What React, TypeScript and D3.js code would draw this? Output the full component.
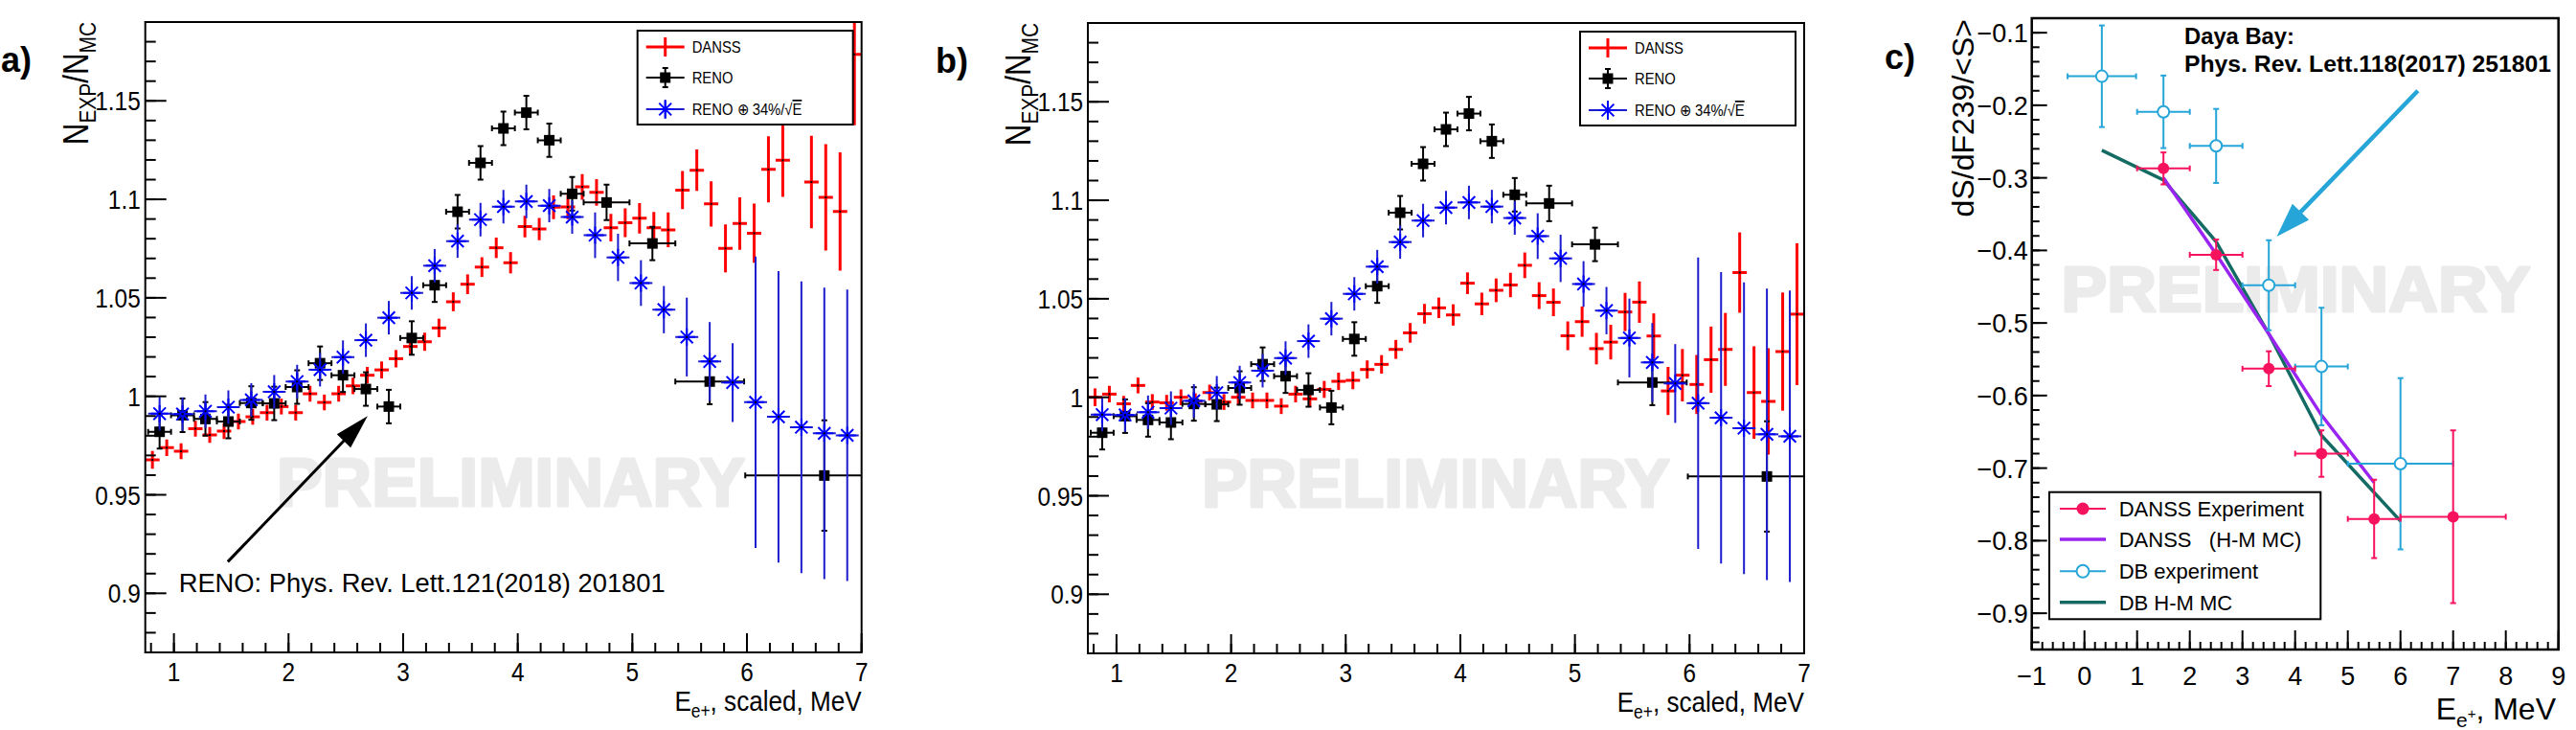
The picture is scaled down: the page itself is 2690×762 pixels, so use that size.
import React from 'react';
import * as d3 from 'd3';

const W = 2690;
const H = 762;
const FONT = "'Liberation Sans', Arial, Helvetica, sans-serif";
const SQ = 0.87; // the ROOT canvases of a) and b) were squeezed horizontally

// ---------- panels a) and b): N_EXP / N_MC ----------
const danssE = [
  0.8125, 0.9375, 1.0625, 1.1875, 1.3125, 1.4375, 1.5625, 1.6875, 1.8125, 1.9375,
  2.0625, 2.1875, 2.3125, 2.4375, 2.5625, 2.6875, 2.8125, 2.9375, 3.0625, 3.1875,
  3.3125, 3.4375, 3.5625, 3.6875, 3.8125, 3.9375, 4.0625, 4.1875, 4.3125, 4.4375,
  4.5625, 4.6875, 4.8125, 4.9375, 5.0625, 5.1875, 5.3125, 5.4375, 5.5625, 5.6875,
  5.8125, 5.9375, 6.0625, 6.1875, 6.3125, 6.4375, 6.5625, 6.6875, 6.8125, 6.9375,
];
const danssHalfBin = 0.0625;
const danssRatioA: (number | null)[] = [
  0.9677, 0.9739, 0.9721, 0.9836, 0.9804, 0.9823, 0.9872, 0.9896, 0.9917, 0.9948,
  0.9917, 1.0013, 0.9969, 1.0013, 1.0053, 1.0107, 1.0134, 1.0191, 1.0253, 1.0277,
  1.0347, 1.048, 1.0569, 1.0656, 1.0754, 1.0678, 1.0862, 1.0849, 1.096, 1.0961,
  1.1063, 1.1035, 1.0856, 1.0881, 1.0904, 1.0856, 1.0845, 1.1047, 1.1148, 1.0977,
  1.0751, 1.0877, 1.0828, 1.1152, 1.1198, null, 1.1088, 1.101, 1.0938, 1.1736,
];
const danssRatioB: (number | null)[] = [
  1.0, 1.0016, 0.9967, 1.006, 0.9976, 0.9972, 1.0, 0.998, 1.0024, 0.9976,
  1.0, 0.9984, 0.9984, 0.9955, 1.0016, 0.9992, 1.004, 1.0081, 1.0086, 1.0141,
  1.0167, 1.0243, 1.0327, 1.0424, 1.0454, 1.0418, 1.0579, 1.0474, 1.0543, 1.057,
  1.067, 1.0516, 1.0482, 1.0312, 1.0384, 1.0247, 1.028, 1.0433, 1.0483, 1.0311,
  1.0032, 1.0112, 1.0065, 1.0191, 1.0243, 1.0633, 1.0024, 0.9979, 1.0232, 1.0422,
];
const danssErr = [
  0.0045, 0.0042, 0.004, 0.004, 0.004, 0.004, 0.004, 0.004, 0.004, 0.004,
  0.004, 0.004, 0.004, 0.004, 0.0042, 0.0042, 0.0043, 0.0044, 0.0045, 0.0046,
  0.0047, 0.0048, 0.005, 0.005, 0.0052, 0.0054, 0.0055, 0.0057, 0.006, 0.0062,
  0.0065, 0.0068, 0.007, 0.0073, 0.0077, 0.008, 0.0088, 0.0097, 0.0105, 0.0115,
  0.0122, 0.0133, 0.015, 0.0168, 0.0185, 0.0204, 0.0235, 0.027, 0.03, 0.036,
];

const renoE = [
  0.875, 1.075, 1.275, 1.475, 1.675, 1.875, 2.075, 2.275, 2.475, 2.675, 2.875, 3.075,
  3.275, 3.475, 3.675, 3.875, 4.075, 4.275, 4.475, 4.775, 5.175, 5.675, 6.675,
];
const renoRatio = [
  0.982, 0.9904, 0.9885, 0.9872, 0.9966, 0.9964, 1.0047, 1.0168, 1.0107, 1.0037, 0.9948, 1.0296,
  1.0564, 1.0937, 1.1185, 1.136, 1.144, 1.13, 1.1028, 1.0984, 1.0776, 1.0075, 0.9598,
];
const renoHalfBin = [
  0.1, 0.1, 0.1, 0.1, 0.1, 0.1, 0.1, 0.1, 0.1, 0.1, 0.1, 0.1,
  0.1, 0.1, 0.1, 0.1, 0.1, 0.1, 0.1, 0.2, 0.2, 0.3, 0.69,
];
const renoErr = [
  0.0085, 0.0085, 0.0085, 0.0085, 0.0085, 0.0085, 0.0085, 0.0085, 0.0085, 0.0085, 0.0085, 0.0085,
  0.0085, 0.0085, 0.0085, 0.0085, 0.0085, 0.0085, 0.0085, 0.009, 0.0085, 0.0115, 0.028,
];

// RENO smeared with 34%/sqrt(E)
const smearE = [
  0.875, 1.075, 1.275, 1.475, 1.675, 1.875, 2.075, 2.275, 2.475, 2.675, 2.875,
  3.075, 3.275, 3.475, 3.675, 3.875, 4.075, 4.275, 4.475, 4.675, 4.875,
  5.075, 5.275, 5.475, 5.675, 5.875, 6.075, 6.275, 6.475, 6.675, 6.875,
];
const smearHalfBin = 0.1;
const smearRatio = [
  0.9912, 0.991, 0.9924, 0.9945, 0.9982, 1.0023, 1.0075, 1.0135, 1.0199, 1.0285, 1.0399,
  1.0525, 1.0663, 1.0788, 1.0897, 1.0963, 1.0989, 1.0968, 1.091, 1.0818, 1.0705,
  1.0575, 1.044, 1.0301, 1.0177, 1.007, 0.997, 0.9896, 0.9843, 0.9812, 0.9802,
];
const smearErr = [
  0.0085, 0.0085, 0.0085, 0.0085, 0.0085, 0.0085, 0.0085, 0.0085, 0.0085, 0.0085, 0.0085,
  0.0085, 0.0085, 0.0085, 0.0085, 0.0085, 0.0085, 0.0085, 0.0085, 0.0116, 0.012,
  0.0116, 0.012, 0.02, 0.02, 0.02, 0.074, 0.074, 0.074, 0.074, 0.074,
];

const eTicks = [1, 2, 3, 4, 5, 6, 7];
const ratioTicks = [0.9, 0.95, 1, 1.05, 1.1, 1.15];

// ---------- panel c): dS/dF239/<S> ----------
const danssExpE = [1.5, 2.5, 3.5, 4.5, 5.5, 7.0];
const danssExpS = [-0.287, -0.406, -0.563, -0.68, -0.77, -0.767];
const danssExpEx = [0.5, 0.5, 0.5, 0.5, 0.5, 1.0];
const danssExpEy = [0.022, 0.021, 0.024, 0.032, 0.054, 0.119];

const danssMcE = [1.5, 2.5, 3.5, 4.5, 5.5];
const danssMcS = [-0.3, -0.405, -0.515, -0.627, -0.72];

const dbExpE = [0.33, 1.5, 2.5, 3.5, 4.5, 6.0];
const dbExpS = [-0.16, -0.209, -0.256, -0.448, -0.56, -0.694];
const dbExpEx = [0.65, 0.5, 0.5, 0.5, 0.5, 1.0];
const dbExpEy = [0.07, 0.05, 0.051, 0.062, 0.081, 0.118];

const dbMcE = [0.33, 1.5, 2.5, 3.5, 4.5, 6.0];
const dbMcS = [-0.262, -0.303, -0.388, -0.515, -0.655, -0.773];

const cETicks = [-1, 0, 1, 2, 3, 4, 5, 6, 7, 8, 9];
const cSTicks = [-0.1, -0.2, -0.3, -0.4, -0.5, -0.6, -0.7, -0.8, -0.9];

const PINK = '#f7125e';
const LBLUE = '#25a5d8';
const PURPLE = '#9b25f0';
const TEAL = '#146b63';
const BAR_BLUE = '#1c1ccf';
const WATERMARK = '#ebebeb';

// ROOT asterisk marker
const STAR = 'M-9,0H9M0,-9V9M-6.4,-6.4L6.4,6.4M-6.4,6.4L6.4,-6.4';

function Arrow({ x1, y1, x2, y2, color, width, head, half }: {
  x1: number; y1: number; x2: number; y2: number; color: string; width: number; head: number; half: number;
}) {
  const L = Math.hypot(x2 - x1, y2 - y1);
  const ux = (x2 - x1) / L;
  const uy = (y2 - y1) / L;
  const bx = x2 - ux * head;
  const by = y2 - uy * head;
  return (
    <g>
      <line x1={x1} y1={y1} x2={bx + ux * 2} y2={by + uy * 2} stroke={color} strokeWidth={width} />
      <polygon
        points={`${x2},${y2} ${bx - uy * half},${by + ux * half} ${bx + uy * half},${by - ux * half}`}
        fill={color}
      />
    </g>
  );
}

function RatioPanel({ left, top, tag, tagX, danss, wmX, note }: {
  left: number; top: number; tag: string; tagX: number; danss: (number | null)[]; wmX: number; note?: boolean;
}) {
  const right = left + 748;
  const bottom = top + 658;
  const x = d3.scaleLinear().domain([0.75, 7]).range([left, right]);
  const y = d3.scaleLinear().domain([0.87, 1.19]).range([bottom, top]);
  const clip = `clip-${tag[0]}`;
  const minorX = x.ticks(35);
  const minorY = y.ticks(32);
  const sq = (px: number, py: number) => `translate(${px},${py}) scale(${SQ},1)`;

  const lgX = left + 514;
  const lgY = top + 9;
  const mk = lgX + 29;
  const rows = [lgY + 17, lgY + 49, lgY + 82];

  return (
    <g>
      <defs>
        <clipPath id={clip}>
          <rect x={left} y={top} width={right - left} height={bottom - top} />
        </clipPath>
      </defs>
      <text x={wmX} y={top + 505} fontSize={70} fontWeight="bold" fill={WATERMARK}
        stroke={WATERMARK} strokeWidth={3} strokeLinejoin="round"
        textLength={489} lengthAdjust="spacingAndGlyphs">PRELIMINARY</text>

      <g clipPath={`url(#${clip})`}>
        {/* DANSS */}
        {danss.map((v, i) => v == null ? null : (
          <g key={`d${i}`}>
            <line x1={x(danssE[i] - danssHalfBin)} x2={x(danssE[i] + danssHalfBin)} y1={y(v)} y2={y(v)}
              stroke="#ff0000" strokeWidth={3} />
            <line x1={x(danssE[i])} x2={x(danssE[i])} y1={y(v - danssErr[i])} y2={y(v + danssErr[i])}
              stroke="#ff0000" strokeWidth={3} />
            <rect x={x(danssE[i]) - 1} y={y(v) - 1} width={2} height={2} fill="#000" />
          </g>
        ))}
        {/* RENO */}
        {renoRatio.map((v, i) => {
          const cx = x(renoE[i]);
          const cy = y(v);
          const xa = x(renoE[i] - renoHalfBin[i]);
          const xb = x(renoE[i] + renoHalfBin[i]);
          const ya = y(v - renoErr[i]);
          const yb = y(v + renoErr[i]);
          return (
            <g key={`r${i}`} stroke="#000" strokeWidth={2}>
              <line x1={xa} x2={xb} y1={cy} y2={cy} />
              <line x1={cx} x2={cx} y1={ya} y2={yb} />
              <line x1={xa} x2={xa} y1={cy - 3} y2={cy + 3} />
              <line x1={xb} x2={xb} y1={cy - 3} y2={cy + 3} />
              <line x1={cx - 3} x2={cx + 3} y1={ya} y2={ya} />
              <line x1={cx - 3} x2={cx + 3} y1={yb} y2={yb} />
              <rect x={cx - 5.5} y={cy - 5.5} width={11} height={11} fill="#000" stroke="none" />
            </g>
          );
        })}
        {/* RENO (+) 34%/sqrt(E) */}
        {smearRatio.map((v, i) => {
          const cx = x(smearE[i]);
          const cy = y(v);
          return (
            <g key={`s${i}`}>
              <line x1={x(smearE[i] - smearHalfBin)} x2={x(smearE[i] + smearHalfBin)} y1={cy} y2={cy}
                stroke={BAR_BLUE} strokeWidth={2} />
              <line x1={cx} x2={cx} y1={y(v - smearErr[i])} y2={y(v + smearErr[i])}
                stroke={BAR_BLUE} strokeWidth={2} />
              <path d={STAR} transform={`translate(${cx},${cy})`} stroke="#0000ff" strokeWidth={2} fill="none" />
              <rect x={cx - 1} y={cy - 1} width={2} height={2} fill="#000" />
            </g>
          );
        })}
      </g>

      {/* axes */}
      <rect x={left} y={top} width={right - left} height={bottom - top} fill="none" stroke="#000" strokeWidth={2} />
      <g stroke="#000" strokeWidth={2}>
        {minorX.map((t) => <line key={`mx${t}`} x1={x(t)} x2={x(t)} y1={bottom} y2={bottom - 10} />)}
        {eTicks.map((t) => <line key={`Mx${t}`} x1={x(t)} x2={x(t)} y1={bottom} y2={bottom - 20} />)}
        {minorY.map((t) => <line key={`my${t}`} x1={left} x2={left + 11} y1={y(t)} y2={y(t)} />)}
        {ratioTicks.map((t) => <line key={`My${t}`} x1={left} x2={left + 22} y1={y(t)} y2={y(t)} />)}
      </g>
      <g fontSize={28} fill="#000">
        {eTicks.map((t) => (
          <text key={`lx${t}`} transform={sq(x(t), bottom + 30)} textAnchor="middle">{t}</text>
        ))}
        {ratioTicks.map((t) => (
          <text key={`ly${t}`} transform={sq(left - 5, y(t) + 10)} textAnchor="end">{String(t)}</text>
        ))}
      </g>
      <text transform={sq(right, bottom + 61)} textAnchor="end" fontSize={30}>
        E<tspan fontSize={20} dy={7}>e+</tspan><tspan fontSize={30} dy={-7}>, scaled, MeV</tspan>
      </text>
      <text transform={`translate(${left - 60},${top}) rotate(-90) scale(${SQ},1)`} textAnchor="end" fontSize={36}>
        N<tspan fontSize={24} dy={8}>EXP</tspan><tspan fontSize={36} dy={-8}>/N</tspan><tspan fontSize={24} dy={8}>MC</tspan>
      </text>
      <text x={tagX} y={top + 52} fontSize={36} fontWeight="bold">{tag}</text>

      {/* legend */}
      <rect x={lgX} y={lgY} width={225} height={98} fill="#fff" stroke="#000" strokeWidth={2} />
      <g>
        <line x1={mk - 20} x2={mk + 20} y1={rows[0]} y2={rows[0]} stroke="#ff0000" strokeWidth={3} />
        <line x1={mk} x2={mk} y1={rows[0] - 10} y2={rows[0] + 10} stroke="#ff0000" strokeWidth={3} />
        <g stroke="#000" strokeWidth={2}>
          <line x1={mk - 20} x2={mk + 20} y1={rows[1]} y2={rows[1]} />
          <line x1={mk} x2={mk} y1={rows[1] - 10} y2={rows[1] + 10} />
          <line x1={mk - 3} x2={mk + 3} y1={rows[1] - 10} y2={rows[1] - 10} />
          <line x1={mk - 3} x2={mk + 3} y1={rows[1] + 10} y2={rows[1] + 10} />
        </g>
        <rect x={mk - 5.5} y={rows[1] - 5.5} width={11} height={11} fill="#000" />
        <line x1={mk - 20} x2={mk + 20} y1={rows[2]} y2={rows[2]} stroke={BAR_BLUE} strokeWidth={2} />
        <line x1={mk} x2={mk} y1={rows[2] - 10} y2={rows[2] + 10} stroke={BAR_BLUE} strokeWidth={2} />
        <path d={STAR} transform={`translate(${mk},${rows[2]})`} stroke="#0000ff" strokeWidth={2} fill="none" />
      </g>
      <g fontSize={17}>
        <text transform={sq(lgX + 57, rows[0] + 6)}>DANSS</text>
        <text transform={sq(lgX + 57, rows[1] + 6)}>RENO</text>
        <text transform={sq(lgX + 57, rows[2] + 6)}>
          RENO ⊕ 34%/√<tspan textDecoration="overline">E</tspan>
        </text>
      </g>

      {note && (
        <g>
          <Arrow x1={x(1.47)} y1={y(0.916)} x2={x(2.69)} y2={y(0.99)} color="#000" width={3} head={36} half={10} />
          <text x={left + 35} y={top + 595} fontSize={27} textLength={508} lengthAdjust="spacingAndGlyphs">
            RENO: Phys. Rev. Lett.121(2018) 201801
          </text>
        </g>
      )}
    </g>
  );
}

function SlopePanel() {
  const left = 2121.7;
  const right = 2671.7;
  const top = 19;
  const bottom = 678;
  const x = d3.scaleLinear().domain([-1, 9]).range([left, right]);
  const y = d3.scaleLinear().domain([-0.95, -0.08]).range([bottom, top]);
  const minorX = x.ticks(50);
  const minorY = y.ticks(43);
  const path = (es: number[], ss: number[]) =>
    d3.line<number>().x((e) => x(e)).y((_, i) => y(ss[i]))(es) ?? '';
  const fmt = (v: number, digits: number) => (v < 0 ? `\u2212${(-v).toFixed(digits)}` : v.toFixed(digits));

  const points = (es: number[], ss: number[], exs: number[], eys: number[], color: string, open: boolean, key: string) =>
    es.map((e, i) => {
      const cx = x(e);
      const cy = y(ss[i]);
      const xa = x(e - exs[i]);
      const xb = x(e + exs[i]);
      const ya = y(ss[i] - eys[i]);
      const yb = y(ss[i] + eys[i]);
      return (
        <g key={`${key}${i}`} stroke={color} strokeWidth={2}>
          <line x1={xa} x2={xb} y1={cy} y2={cy} />
          <line x1={cx} x2={cx} y1={ya} y2={yb} />
          <line x1={xa} x2={xa} y1={cy - 3} y2={cy + 3} />
          <line x1={xb} x2={xb} y1={cy - 3} y2={cy + 3} />
          <line x1={cx - 3} x2={cx + 3} y1={ya} y2={ya} />
          <line x1={cx - 3} x2={cx + 3} y1={yb} y2={yb} />
          <circle cx={cx} cy={cy} r={6} fill={open ? '#fff' : color} strokeWidth={open ? 2 : 0} />
        </g>
      );
    });

  const lgX = 2140;
  const lgY = 513.7;
  const rows = [531, 563, 596.3, 628.7];
  const mk = 2175;

  return (
    <g>
      <text x={2152.6} y={325} fontSize={67} fontWeight="bold" fill={WATERMARK}
        stroke={WATERMARK} strokeWidth={3} strokeLinejoin="round"
        textLength={490} lengthAdjust="spacingAndGlyphs">PRELIMINARY</text>

      <path d={path(dbMcE, dbMcS)} fill="none" stroke={TEAL} strokeWidth={3.5} />
      <path d={path(danssMcE, danssMcS)} fill="none" stroke={PURPLE} strokeWidth={3.5} />
      {points(dbExpE, dbExpS, dbExpEx, dbExpEy, LBLUE, true, 'db')}
      {points(danssExpE, danssExpS, danssExpEx, danssExpEy, PINK, false, 'dn')}

      <Arrow x1={x(6.33)} y1={y(-0.18)} x2={x(3.65)} y2={y(-0.381)} color={LBLUE} width={4.5} head={36} half={12} />
      <g fontWeight="bold" fontSize={23}>
        <text x={2281} y={46} textLength={115} lengthAdjust="spacingAndGlyphs">Daya Bay:</text>
        <text x={2281} y={75} textLength={383} lengthAdjust="spacingAndGlyphs">Phys. Rev. Lett.118(2017) 251801</text>
      </g>

      <rect x={left} y={top} width={right - left} height={bottom - top} fill="none" stroke="#000" strokeWidth={2.5} />
      <g stroke="#000" strokeWidth={2}>
        {minorX.map((t) => <line key={`mx${t}`} x1={x(t)} x2={x(t)} y1={bottom} y2={bottom - 8} />)}
        {cETicks.map((t) => <line key={`Mx${t}`} x1={x(t)} x2={x(t)} y1={bottom} y2={bottom - 20} />)}
        {minorY.map((t) => <line key={`my${t}`} x1={left} x2={left + 8} y1={y(t)} y2={y(t)} />)}
        {cSTicks.map((t) => <line key={`My${t}`} x1={left} x2={left + 16} y1={y(t)} y2={y(t)} />)}
      </g>
      <g fontSize={27}>
        {cETicks.map((t) => (
          <text key={`lx${t}`} x={x(t)} y={bottom + 37} textAnchor="middle">{fmt(t, 0)}</text>
        ))}
        {cSTicks.map((t) => (
          <text key={`ly${t}`} x={left - 4} y={y(t) + 10} textAnchor="end">{fmt(t, 1)}</text>
        ))}
      </g>
      <text x={2669} y={751} textAnchor="end" fontSize={32}>
        E<tspan fontSize={21} dy={8}>e</tspan><tspan fontSize={15} dy={-9}>+</tspan><tspan fontSize={32} dy={1}>, MeV</tspan>
      </text>
      <text transform={`translate(2061,${top + 1}) rotate(-90)`} textAnchor="end" fontSize={32}>dS/dF239/&lt;S&gt;</text>
      <text x={1968} y={72} fontSize={36} fontWeight="bold">c)</text>

      {/* legend */}
      <rect x={lgX} y={lgY} width={283.3} height={132.6} fill="#fff" stroke="#000" strokeWidth={2} />
      <line x1={mk - 24} x2={mk + 24} y1={rows[0]} y2={rows[0]} stroke={PINK} strokeWidth={2} />
      <circle cx={mk} cy={rows[0]} r={6.5} fill={PINK} />
      <line x1={mk - 24} x2={mk + 24} y1={rows[1]} y2={rows[1]} stroke={PURPLE} strokeWidth={3.5} />
      <line x1={mk - 24} x2={mk + 24} y1={rows[2]} y2={rows[2]} stroke={LBLUE} strokeWidth={2} />
      <circle cx={mk} cy={rows[2]} r={6.5} fill="#fff" stroke={LBLUE} strokeWidth={2} />
      <line x1={mk - 24} x2={mk + 24} y1={rows[3]} y2={rows[3]} stroke={TEAL} strokeWidth={3.5} />
      <g fontSize={22}>
        <text x={2212.7} y={rows[0] + 8}>DANSS Experiment</text>
        <text x={2212.7} y={rows[1] + 8} xmlSpace="preserve" style={{ whiteSpace: 'pre' }}>DANSS   (H-M MC)</text>
        <text x={2212.7} y={rows[2] + 8}>DB experiment</text>
        <text x={2212.7} y={rows[3] + 8}>DB H-M MC</text>
      </g>
    </g>
  );
}

export default function App() {
  return (
    <svg width={W} height={H} viewBox={`0 0 ${W} ${H}`} fontFamily={FONT}
      style={{ position: 'absolute', left: 0, top: 0, background: '#fff' }}>
      <rect width={W} height={H} fill="#fff" />
      <RatioPanel left={151.7} top={23} tag="a)" tagX={1} danss={danssRatioA} wmX={289} note />
      <RatioPanel left={1136} top={24} tag="b)" tagX={977} danss={danssRatioB} wmX={1255} />
      <SlopePanel />
    </svg>
  );
}
